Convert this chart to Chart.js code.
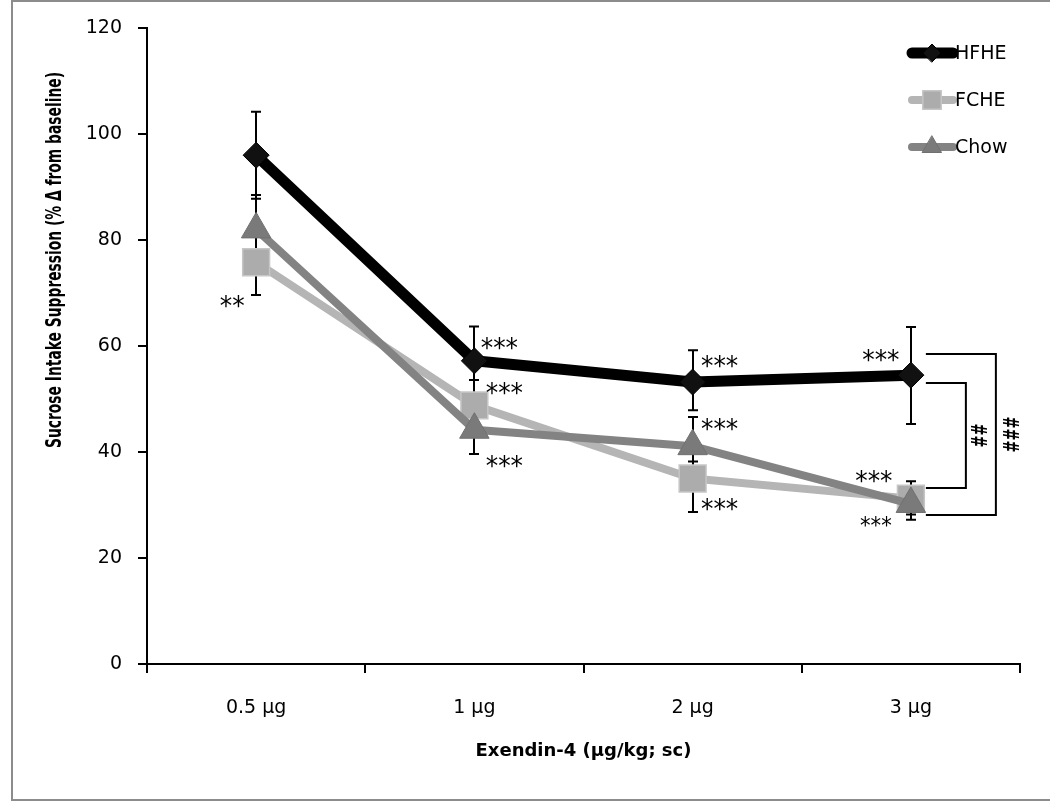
<!DOCTYPE html>
<html><head><meta charset="utf-8">
<script src="https://cdn.jsdelivr.net/npm/chart.js@4.4.0/dist/chart.umd.min.js"></script>
<style>html,body{margin:0;padding:0;background:#fff;overflow:hidden;} canvas{display:block;}</style>
</head><body>
<canvas id="c" width="1050" height="802"></canvas>
<script>
// ---------- data ----------
const categories = ['0.5 µg', '1 µg', '2 µg', '3 µg'];
const yTickStep = 20;
const yMin = 0, yMax = 120;
const seriesNames = ['HFHE', 'FCHE', 'Chow'];
const hfhe = [96.0, 57.2, 53.2, 54.5];
const hfheErrUp = [8.2, 6.5, 6.0, 9.1];
const hfheErrDown = [8.2, 6.5, 5.3, 9.2];
const fche = [75.8, 48.8, 35.0, 31.2];
const fcheErrUp = [6.2, 4.8, 3.2, 3.3];
const fcheErrDown = [6.2, 4.8, 6.3, 3.0];
const chow = [82.0, 44.2, 41.1, 30.2];
const chowErrUp = [6.5, 4.6, 5.5, 3.0];
const chowErrDown = [6.0, 4.6, 5.0, 3.0];
// significance marks (category index, text, value level)
const sigCats = [0, 1, 1, 1, 2, 2, 2, 3, 3, 3];
const sigTexts = ['**', '***', '***', '***', '***', '***', '***', '***', '***', '***'];
const sigLevels = [68.7, 60.8, 52.3, 38.5, 57.4, 45.5, 30.4, 58.5, 35.7, 27.2];
// group comparisons at 3 µg (label, top value, bottom value)
const compLabels = ['##', '###'];
const compTops = [53.0, 58.5];
const compBottoms = [33.2, 28.1];
const xTitle = 'Exendin-4 (\u03bcg/kg; sc)';
const yTitle = 'Sucrose Intake Suppression (% \u0394 from baseline)';

// ---------- layout / style (not data) ----------
const sigDx = [-24, 25, 30, 30, 27, 27, 27, -30, -37, -35];
const sigSize = [27, 27, 27, 27, 27, 27, 27, 27, 27, 23];
const compRight = [55, 85];
const compLabelDx = [71, 103];
const compLeftDx = 15;

const framePlugin = {
  id: 'frame',
  beforeDraw(chart) {
    const ctx = chart.ctx;
    ctx.save();
    ctx.fillStyle = '#fff';
    ctx.fillRect(0, 0, chart.width, chart.height);
    ctx.strokeStyle = '#8c8c8c';
    ctx.lineWidth = 2;
    ctx.strokeRect(12, 1, 1100, 799);
    ctx.restore();
  }
};

const errorBarPlugin = {
  id: 'errbars',
  beforeDatasetsDraw(chart) {
    const ctx = chart.ctx, ys = chart.scales.y;
    ctx.save();
    ctx.strokeStyle = '#000';
    ctx.lineWidth = 2;
    chart.data.datasets.forEach((ds, i) => {
      const meta = chart.getDatasetMeta(i);
      meta.data.forEach((pt, j) => {
        const v = ds.data[j];
        const t = ys.getPixelForValue(v + ds.errUp[j]);
        const b = ys.getPixelForValue(v - ds.errDown[j]);
        const x = Math.round(pt.x);
        ctx.beginPath();
        ctx.moveTo(x, t); ctx.lineTo(x, b);
        ctx.moveTo(x - 5, t); ctx.lineTo(x + 5, t);
        ctx.moveTo(x - 5, b); ctx.lineTo(x + 5, b);
        ctx.stroke();
      });
    });
    ctx.restore();
  }
};

const annotationPlugin = {
  id: 'annot',
  afterDraw(chart) {
    const ctx = chart.ctx, xs = chart.scales.x, ys = chart.scales.y;
    ctx.save();
    ctx.fillStyle = '#000';
    ctx.textAlign = 'center';
    ctx.textBaseline = 'alphabetic';
    sigTexts.forEach((txt, k) => {
      const cx = xs.getPixelForValue(sigCats[k]) + sigDx[k];
      const cy = ys.getPixelForValue(sigLevels[k]);
      const s = sigSize[k];
      ctx.font = s + 'px "DejaVu Sans"';
      ctx.save();
      ctx.translate(cx, cy + 0.57 * s);
      ctx.scale(0.92, 1);
      ctx.fillText(txt, 0, 0);
      ctx.restore();
    });
    // comparison brackets
    const x0 = xs.getPixelForValue(3);
    ctx.strokeStyle = '#000';
    ctx.lineWidth = 2;
    compLabels.forEach((lab, k) => {
      const t = Math.round(ys.getPixelForValue(compTops[k]));
      const b = Math.round(ys.getPixelForValue(compBottoms[k]));
      const xl = x0 + compLeftDx, xr = x0 + compRight[k];
      ctx.beginPath();
      ctx.moveTo(xl, t); ctx.lineTo(xr, t); ctx.lineTo(xr, b); ctx.lineTo(xl, b);
      ctx.stroke();
      ctx.save();
      ctx.translate(x0 + compLabelDx[k], (t + b) / 2);
      ctx.rotate(-Math.PI / 2);
      ctx.font = 'bold 18px "DejaVu Sans"';
      ctx.scale(0.8, 1.15);
      ctx.textAlign = 'center';
      ctx.textBaseline = 'middle';
      ctx.fillText(lab, 0, 0);
      ctx.restore();
    });
    // y axis title
    ctx.save();
    ctx.translate(56, 260);
    ctx.rotate(-Math.PI / 2);
    ctx.font = 'bold 13px "DejaVu Sans"';
    const w = ctx.measureText(yTitle).width;
    const sx = 376 / w;
    ctx.scale(sx, sx * 1.5);
    ctx.textAlign = 'center';
    ctx.textBaseline = 'middle';
    ctx.fillText(yTitle, 0, 0);
    ctx.restore();
    // legend
    const rows = [53, 100, 147];
    chart.data.datasets.forEach((ds, i) => {
      const y = rows[i];
      ctx.save();
      ctx.strokeStyle = ds.borderColor;
      ctx.lineWidth = ds.borderWidth;
      ctx.lineCap = 'round';
      ctx.beginPath();
      ctx.moveTo(912, y); ctx.lineTo(953, y);
      ctx.stroke();
      ctx.fillStyle = ds.pointBackgroundColor;
      ctx.strokeStyle = ds.pointBorderColor;
      ctx.lineWidth = ds.pointBorderWidth;
      Chart.helpers.drawPoint(ctx, {pointStyle: ds.pointStyle, radius: ds.legendRadius, rotation: 0, borderWidth: ds.pointBorderWidth}, 932, y);
      ctx.restore();
      ctx.fillStyle = '#000';
      ctx.font = '19px "DejaVu Sans"';
      ctx.textAlign = 'left';
      ctx.textBaseline = 'middle';
      ctx.fillText(seriesNames[i], 955, y + 1);
    });
    ctx.restore();
  }
};

const chart = new Chart(document.getElementById('c'), {
  type: 'line',
  data: {
    labels: categories,
    datasets: [
      { label: seriesNames[0], data: hfhe, errUp: hfheErrUp, errDown: hfheErrDown, order: 2,
        borderColor: '#000000', borderWidth: 11, borderJoinStyle: 'round',
        pointStyle: 'rectRot', pointRadius: 13, legendRadius: 9,
        pointBackgroundColor: '#111111', pointBorderColor: '#000000', pointBorderWidth: 1 },
      { label: seriesNames[1], data: fche, errUp: fcheErrUp, errDown: fcheErrDown, order: 1,
        borderColor: '#b5b5b5', borderWidth: 8, borderJoinStyle: 'round',
        pointStyle: 'rect', pointRadius: 19, legendRadius: 13,
        pointBackgroundColor: '#acacac', pointBorderColor: '#c6c6c6', pointBorderWidth: 1.5 },
      { label: seriesNames[2], data: chow, errUp: chowErrUp, errDown: chowErrDown, order: 0,
        borderColor: '#838383', borderWidth: 8, borderJoinStyle: 'round',
        pointStyle: 'triangle', pointRadius: 17, legendRadius: 11,
        pointBackgroundColor: '#7a7a7a', pointBorderColor: '#707070', pointBorderWidth: 1 }
    ]
  },
  options: {
    responsive: false,
    animation: false,
    events: [],
    layout: { padding: { top: 28, right: 30, left: 0, bottom: 0 } },
    plugins: { legend: { display: false }, tooltip: { enabled: false } },
    elements: { line: { tension: 0 } },
    scales: {
      x: {
        offset: true,
        grid: { offset: true, drawOnChartArea: false, drawTicks: true, tickLength: 9, color: '#000', lineWidth: 2 },
        border: { display: true, color: '#000', width: 2 },
        ticks: { color: '#000', font: { family: 'DejaVu Sans', size: 19 }, padding: 24 },
        title: { display: true, text: xTitle, color: '#000', font: { family: 'DejaVu Sans', weight: 'bold', size: 18 }, padding: { top: 0, bottom: 40 } },
        afterFit(s) { s.height = 138; }
      },
      y: {
        min: yMin, max: yMax,
        grid: { drawOnChartArea: false, drawTicks: true, tickLength: 9, color: '#000', lineWidth: 2 },
        border: { display: true, color: '#000', width: 2 },
        ticks: { stepSize: yTickStep, color: '#000', font: { family: 'DejaVu Sans', size: 19 }, padding: 16 },
        afterFit(s) { s.width = 147; }
      }
    }
  },
  plugins: [framePlugin, errorBarPlugin, annotationPlugin]
});
</script>
</body></html>
